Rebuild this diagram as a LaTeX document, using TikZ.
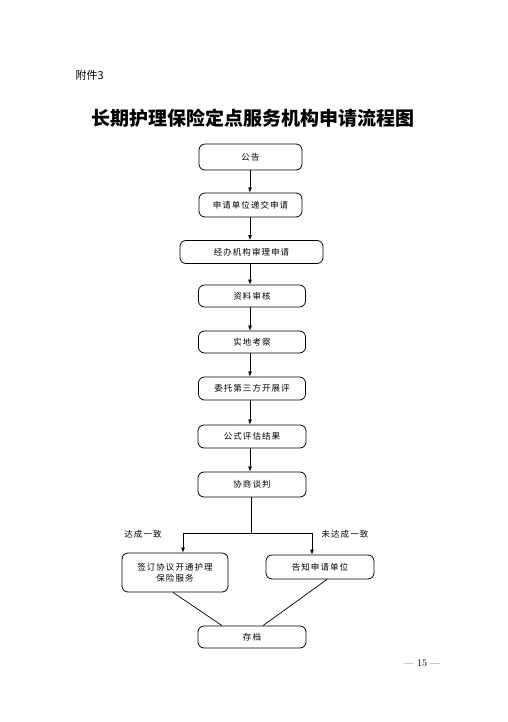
\documentclass[tikz,border=0pt]{standalone}
\usepackage{fontspec}
\newfontfamily\cjk{Noto Sans CJK SC}
\newfontfamily\cjks[LetterSpace=12]{Noto Sans CJK SC}
\usetikzlibrary{arrows.meta}
\begin{document}
\begin{tikzpicture}[x=1pt,y=-1pt,
 box/.style={draw, rounded corners=6pt, line width=0.8pt, inner sep=2pt, font=\cjks\fontsize{8.5}{11}\selectfont, align=center},
 lbl/.style={font=\cjks\fontsize{8.5}{10}\selectfont},
 arr/.style={-{Latex[length=5pt,width=4pt]}, line width=0.7pt},
 ln/.style={line width=0.7pt}]
\fill[white] (0,0) rectangle (507,722);
\useasboundingbox (0,0) rectangle (507,722);
\node[anchor=west, font=\cjk\fontsize{11}{12}\selectfont] (att) at (72,75) {附件3};
\node[font=\cjk\bfseries\fontsize{19}{22}\selectfont] (title) at (253,118) {长期护理保险定点服务机构申请流程图};
\node[box, minimum width=103pt, minimum height=26pt] (n1) at (250.5,157) {公告};
\node[box, minimum width=103pt, minimum height=24pt] (n2) at (250.5,205) {申请单位递交申请};
\node[box, minimum width=143pt, minimum height=23pt] (n3) at (251.5,252) {经办机构审理申请};
\node[box, minimum width=107pt, minimum height=22pt] (n4) at (252,296) {资料审核};
\node[box, minimum width=107pt, minimum height=22pt] (n5) at (252,342) {实地考察};
\node[box, minimum width=107pt, minimum height=23pt] (n6) at (252,388.5) {委托第三方开展评};
\node[box, minimum width=108pt, minimum height=23pt] (n7) at (252,436.5) {公式评估结果};
\node[box, minimum width=108pt, minimum height=25pt] (n8) at (252,484.5) {协商谈判};
\node[box, minimum width=106pt, minimum height=39pt] (n9) at (175,572.5) {签订协议开通护理\\保险服务};
\node[box, minimum width=108pt, minimum height=24pt] (n10) at (320,567) {告知申请单位};
\node[box, minimum width=108pt, minimum height=22pt] (n11) at (252,637) {存档};
\node[lbl] (l1) at (143,534) {达成一致};
\node[lbl] (l2) at (345,534) {未达成一致};
\node[font=\fontsize{10}{12}\selectfont] (pg) at (422,663) {--- 15 ---};
\foreach \a/\b in {n1/n2,n2/n3,n3/n4,n4/n5,n5/n6,n6/n7,n7/n8}
  \draw[arr] (\a.south -| 250,0) -- (\b.north -| 250,0);
\coordinate (j) at (251,533);
\coordinate (bl) at (183,533);
\coordinate (br) at (312,533);
\draw[ln] (n8.south -| j) -- (j);
\draw[arr] (j) -- (bl) -- (bl |- n9.north);
\draw[arr] (j) -- (br) -- (br |- n10.north);
\draw[ln] ([xshift=-2pt]n9.south) -- ([xshift=-30pt]n11.north);
\draw[ln] ([xshift=7pt]n10.south) -- ([xshift=11pt]n11.north);
\end{tikzpicture}
\end{document}
